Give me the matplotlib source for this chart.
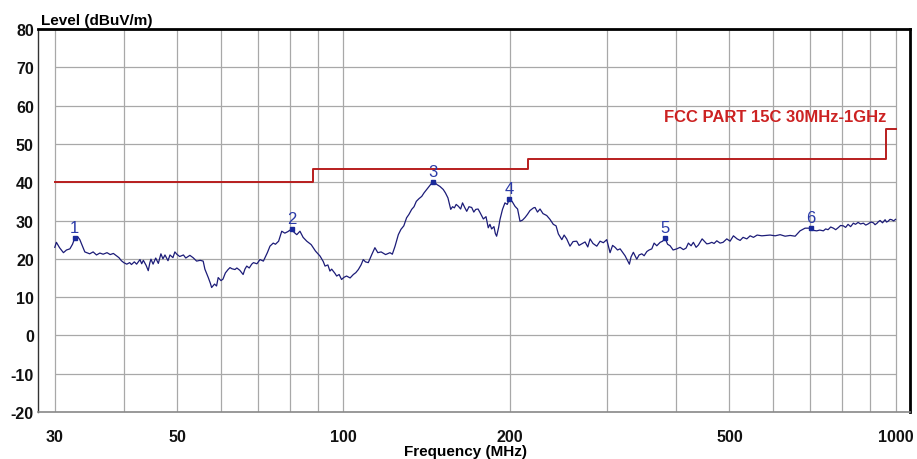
import matplotlib
matplotlib.use('Agg')
import matplotlib.pyplot as plt

plt.rcParams['font.family'] = ['Liberation Sans', 'DejaVu Sans']
plt.rcParams['axes.unicode_minus'] = False

# measured trace, frequency in MHz / level in dBuV/m
freq = [30.0, 30.2, 30.6, 31.1, 31.5, 31.95, 32.3, 32.6, 33.0, 33.3, 33.7, 34.0,
        34.7, 35.2, 35.7, 36.2, 36.7, 37.3, 37.8, 38.3, 38.8, 39.2, 39.6, 40.0,
        40.5, 41.0, 41.3, 41.8, 42.2, 42.8, 43.1, 43.4, 43.9, 44.3, 44.6, 44.8,
        45.2, 45.7, 46.2, 46.7, 47.1, 47.5, 48.1, 48.5, 49.1, 49.5, 49.9, 50.5,
        51.3, 51.8, 52.7, 53.4, 54.2, 55.0, 55.7, 56.1, 56.9, 57.4, 57.7, 58.4,
        58.9, 59.3, 60.0, 60.5, 61.1, 61.8, 62.3, 62.8, 63.6, 64.1, 64.9, 65.8,
        66.3, 66.8, 67.5, 68.2, 68.7, 69.7, 70.6, 71.6, 72.1, 72.8, 73.6, 74.6,
        75.3, 76.3, 77.3, 78.3, 79.3, 80.6, 81.4, 82.3, 83.4, 84.5, 85.8, 87.4,
        89.0, 90.7, 91.9, 92.6, 93.7, 94.5, 95.2, 96.5, 97.2, 98.2, 99.2, 100.3,
        101.3, 102.8, 104.2, 105.3, 106.4, 107.6, 108.6, 109.6, 110.9, 112.6, 114.0, 115.4,
        117.0, 119.2, 121.4, 122.6, 124.0, 125.7, 127.1, 128.6, 130.1, 131.4, 132.9, 134.2,
        135.5, 137.0, 138.6, 139.9, 141.5, 143.2, 145.1, 146.4, 147.6, 149.5, 151.6, 153.0,
        154.6, 156.4, 157.6, 158.8, 160.0, 161.5, 163.0, 164.3, 165.8, 167.2, 168.8, 170.7,
        172.2, 173.6, 175.3, 176.7, 178.0, 179.2, 181.2, 182.9, 184.2, 185.5, 187.3, 188.4,
        189.4, 191.0, 192.1, 194.1, 196.1, 198.0, 199.7, 202.0, 204.5, 206.7, 208.8, 211.0,
        213.3, 215.4, 217.7, 220.9, 222.3, 224.6, 227.0, 229.8, 233.4, 236.6, 239.9, 242.7,
        245.0, 248.6, 251.0, 253.7, 257.2, 260.5, 264.5, 267.1, 270.1, 273.9, 277.0, 279.7,
        283.1, 287.6, 291.6, 295.6, 299.8, 304.0, 307.2, 310.4, 313.6, 317.0, 320.2, 323.6,
        326.3, 329.5, 331.8, 335.0, 339.8, 343.1, 347.0, 350.4, 354.4, 357.8, 361.8, 365.3,
        369.4, 374.6, 378.5, 382.4, 386.4, 390.5, 395.4, 401.6, 407.1, 412.7, 417.4, 421.4,
        426.2, 430.3, 435.2, 439.4, 446.3, 455.0, 459.4, 464.6, 469.1, 474.4, 481.0, 487.0,
        494.6, 501.5, 508.5, 516.4, 522.9, 529.4, 537.7, 545.2, 552.8, 561.4, 572.5, 582.9,
        592.6, 605.1, 617.9, 630.9, 644.2, 657.8, 671.4, 685.6, 702.0, 711.0, 719.8, 729.0,
        739.9, 747.0, 754.6, 763.0, 771.5, 779.0, 786.7, 795.0, 804.3, 812.0, 820.2, 829.0,
        838.6, 846.0, 855.3, 864.0, 874.4, 883.0, 891.7, 902.0, 911.6, 918.0, 925.8, 931.0,
        937.5, 947.0, 957.2, 963.0, 969.2, 977.0, 984.2, 992.0, 1000.0]
level = [23.0, 24.3, 22.9, 21.6, 22.3, 22.6, 23.8, 25.4, 25.8, 25.0, 23.2, 21.8,
         21.3, 21.8, 21.0, 21.5, 21.2, 21.6, 21.1, 21.4, 20.8, 20.3, 19.5, 19.0,
         18.6, 19.0, 18.5, 19.2, 18.6, 19.8, 18.7, 19.6, 18.3, 16.9, 19.0, 19.9,
         18.6, 20.2, 18.8, 21.3, 20.0, 21.0, 19.5, 21.0, 20.3, 21.8, 21.2, 20.6,
         21.0, 20.2, 20.9, 20.3, 19.4, 19.6, 19.4, 17.3, 15.1, 13.6, 12.5, 13.4,
         12.9, 15.1, 14.3, 14.7, 16.3, 17.2, 17.7, 17.4, 17.2, 17.6, 17.0, 15.9,
         17.3, 18.1, 17.6, 18.6, 19.0, 18.7, 19.8, 19.4, 20.3, 21.6, 23.3, 24.1,
         23.8, 24.6, 27.2, 26.7, 27.1, 27.8, 26.9, 26.3, 27.2, 25.6, 24.6, 23.7,
         22.0, 20.7, 19.3, 18.1, 18.4, 16.8, 17.3, 16.2, 15.5, 15.9, 14.6, 15.2,
         15.5, 15.0, 15.9, 16.4, 17.2, 18.4, 19.8, 19.2, 19.0, 21.2, 22.9, 21.6,
         21.8, 21.1, 21.6, 21.2, 23.3, 26.3, 27.7, 28.6, 30.7, 31.6, 32.9, 33.6,
         35.0, 35.7, 36.3, 37.2, 38.1, 39.0, 40.1, 39.9, 39.4, 38.9, 38.1, 37.2,
         35.9, 32.9, 33.6, 33.3, 34.2, 33.7, 33.0, 34.6, 33.4, 32.4, 33.6, 33.4,
         32.2, 32.9, 33.0, 32.1, 31.2, 30.4, 31.0, 28.1, 29.0, 27.8, 28.4, 26.6,
         25.9, 28.2, 30.3, 32.9, 34.6, 34.2, 35.6, 35.0, 33.7, 33.0, 29.8, 30.1,
         30.8, 31.6, 32.6, 33.3, 33.4, 32.2, 33.0, 31.8, 31.3, 30.3, 29.0, 28.6,
         26.5, 25.0, 26.2, 25.2, 23.3, 24.5, 24.6, 23.5, 23.9, 24.4, 23.1, 25.2,
         24.0, 23.3, 24.6, 24.2, 25.0, 21.6, 23.5, 23.0, 22.3, 22.6, 21.7, 20.8,
         19.8, 18.6, 20.5, 21.7, 19.9, 21.0, 21.3, 20.8, 21.9, 22.3, 22.6, 24.1,
         23.4, 24.3, 24.6, 25.4, 23.8, 23.4, 22.3, 22.6, 23.0, 22.4, 22.8, 24.1,
         23.4, 24.3, 23.0, 23.6, 25.2, 23.9, 24.0, 24.3, 24.0, 24.7, 24.1, 24.3,
         25.2, 24.6, 26.0, 25.2, 24.8, 25.6, 25.2, 26.0, 25.6, 26.2, 26.0, 26.1,
         26.2, 26.0, 26.3, 25.9, 26.1, 25.9, 27.3, 28.0, 28.0, 27.4, 27.3, 27.5,
         27.3, 27.8, 27.6, 28.3, 28.0, 27.6, 28.1, 28.7, 28.6, 28.2, 29.0, 28.4,
         29.3, 29.0, 29.5, 29.1, 29.3, 28.8, 29.1, 29.6, 29.4, 28.9, 29.3, 29.7,
         30.0, 29.4, 30.2, 29.6, 29.8, 30.3, 30.2, 29.9, 30.3]

# FCC part 15C class B limit (3 m)
limit_freq = [30, 88, 88, 216, 216, 960, 960, 1000]
limit_level = [40, 40, 43.5, 43.5, 46, 46, 54, 54]

# peak markers
marker_freq = [32.6, 80.6, 145.1, 199.7, 382.4, 702.0]
marker_level = [25.4, 27.8, 40.1, 35.6, 25.4, 28.0]
marker_names = ['1', '2', '3', '4', '5', '6']

grid_freq = [30, 40, 50, 60, 70, 80, 90, 100, 200, 300, 400,
             500, 600, 700, 800, 900, 1000]
xtick_freq = [30, 50, 100, 200, 500, 1000]
ytick_level = list(range(-20, 81, 10))

fig = plt.figure(figsize=(9.17, 4.6), dpi=100)
ax = fig.add_axes([38 / 917, 1 - 413 / 460, 872 / 917, 383 / 460])
ax.set_xscale('log')
ax.set_xlim(27.97, 1062)
ax.set_ylim(-20, 80)

# grid only spans the 30MHz - 1GHz range
ax.vlines(grid_freq, -20, 80, color='#a8a8a8', lw=0.9, zorder=1)
ax.hlines(ytick_level[1:-1], 30, 1000, color='#a8a8a8', lw=0.9, zorder=1)

ax.plot(limit_freq, limit_level, color='#b81e1e', lw=1.4, zorder=2)
ax.text(962, 55.3, 'FCC PART 15C 30MHz-1GHz', color='#cc2222', fontsize=12,
        fontweight='bold', ha='right', va='bottom')

ax.plot(freq, level, color='#1c1c78', lw=0.9, zorder=3)
ax.plot(marker_freq, marker_level, 's', color='#1a2a9a', ms=3.5, zorder=4)
for f, v, n in zip(marker_freq, marker_level, marker_names):
    ax.annotate(n, (f, v), xytext=(0, 2), textcoords='offset points',
                ha='center', va='bottom', color='#2a3aa8', fontsize=12)

ax.set_xticks(xtick_freq)
ax.set_xticklabels([str(f) for f in xtick_freq])
ax.xaxis.set_minor_locator(matplotlib.ticker.NullLocator())
ax.set_yticks(ytick_level)
ax.tick_params(length=0, labelsize=11.5, labelcolor='#111111')
for lab in ax.get_xticklabels() + ax.get_yticklabels():
    lab.set_fontweight('bold')
ax.tick_params(axis='x', pad=12)
ax.tick_params(axis='y', pad=3)

ax.set_xlabel('Frequency (MHz)', fontsize=11, fontweight='bold', labelpad=0)
ax.xaxis.set_label_coords(0.49, -0.083)
ax.text(0.003, 1.005, 'Level (dBuV/m)', transform=ax.transAxes, fontsize=11,
        fontweight='bold', ha='left', va='bottom')

ax.spines['top'].set_linewidth(2.0)
ax.spines['right'].set_linewidth(2.0)
ax.spines['left'].set_linewidth(1.0)
ax.spines['left'].set_color('#333333')
ax.spines['bottom'].set_linewidth(1.2)
ax.spines['bottom'].set_color('#888888')

fig.savefig('out.png', dpi=100)
